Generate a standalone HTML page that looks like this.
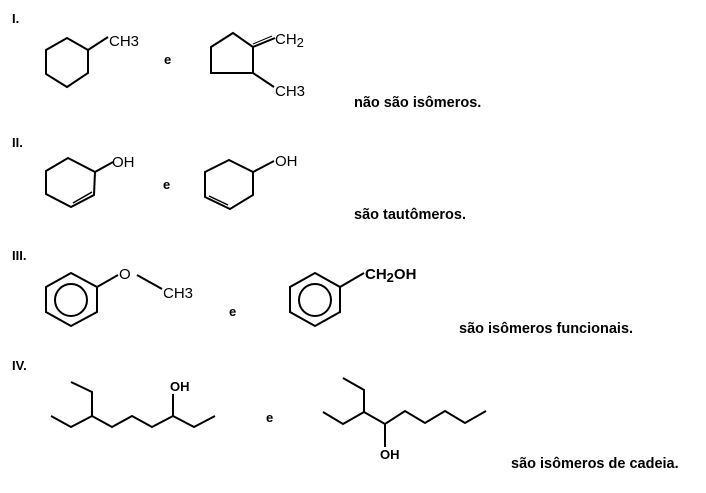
<!DOCTYPE html>
<html><head><meta charset="utf-8"><style>
body{margin:0;background:#fff;width:706px;height:493px;overflow:hidden}
svg{display:block}
text{font-family:"Liberation Sans",Arial,sans-serif;fill:#000}
.b{font-weight:bold;font-size:13px}
.r{font-weight:bold;font-size:14.5px}
.f{font-size:15px}
</style></head><body>
<svg width="706" height="493" viewBox="0 0 706 493" stroke="#000" stroke-width="2" fill="none" stroke-linejoin="miter">
<g stroke="none">
<text class="b" x="12" y="23">I.</text>
<text class="b" x="12" y="147">II.</text>
<text class="b" x="12" y="260">III.</text>
<text class="b" x="12" y="370">IV.</text>
<text class="r" x="354" y="107">não são isômeros.</text>
<text class="r" x="354" y="219">são tautômeros.</text>
<text class="r" x="459" y="333">são isômeros funcionais.</text>
<text class="r" x="511" y="468">são isômeros de cadeia.</text>
<text class="b" x="164" y="64">e</text>
<text class="b" x="163" y="189">e</text>
<text class="b" x="229" y="316">e</text>
<text class="b" x="266" y="422">e</text>
<text class="f" x="109" y="46">CH3</text>
<text class="f" x="275" y="44">CH<tspan font-size="13" dy="3">2</tspan></text>
<text class="f" x="275" y="96">CH3</text>
<text class="f" x="112" y="167">OH</text>
<text class="f" x="275" y="166">OH</text>
<text class="f" x="119" y="279">O</text>
<text class="f" x="163" y="298">CH3</text>
<text class="f" x="365" y="279" font-weight="bold">CH<tspan font-size="13" dy="3">2</tspan><tspan dy="-3">OH</tspan></text>
<text class="b" x="170" y="391">OH</text>
<text class="b" x="380" y="459">OH</text>
</g>
<polygon points="67,38 88,50 88,73 67,87 46,74 46,50"/>
<line x1="88" y1="50" x2="108" y2="37"/>
<polygon points="211,47 233,33 253,47 253,73 211,73"/>
<line x1="253" y1="47" x2="275" y2="38"/>
<line x1="253" y1="44" x2="272" y2="36" stroke-width="1"/>
<line x1="253" y1="73" x2="274" y2="87"/>
<polygon points="68,158 95,172 94,195 71,207 46,194 46,171"/>
<line x1="73" y1="203" x2="92" y2="192" stroke-width="1.5"/>
<line x1="95" y1="172" x2="113" y2="162"/>
<polygon points="229,160 253,172 253,195 230,209 205,197 205,172"/>
<line x1="209" y1="196" x2="228" y2="205" stroke-width="1.5"/>
<line x1="253" y1="172" x2="274" y2="161"/>
<polygon points="71,273 97,287 97,312 71,326 46,312 46,287"/>
<circle cx="71" cy="300" r="16"/>
<line x1="97" y1="287" x2="118" y2="275"/>
<line x1="137" y1="275" x2="162" y2="289"/>
<polygon points="315,273 340,287 340,312 315,326 290,312 290,287"/>
<circle cx="315" cy="300" r="16"/>
<line x1="340" y1="287" x2="364" y2="273"/>
<polyline points="51,416 71,427 92,416 112,427 132,416 152,427 173,416 194,427 215,416"/>
<polyline points="92,416 92,392 71,382"/>
<line x1="173" y1="416" x2="173" y2="394"/>
<polyline points="323,412 343,424 364,412 385,424 405,411 425,423 445,411 465,423 486,411"/>
<polyline points="364,412 364,390 343,378"/>
<line x1="385" y1="424" x2="385" y2="447"/>
</svg>
</body></html>
